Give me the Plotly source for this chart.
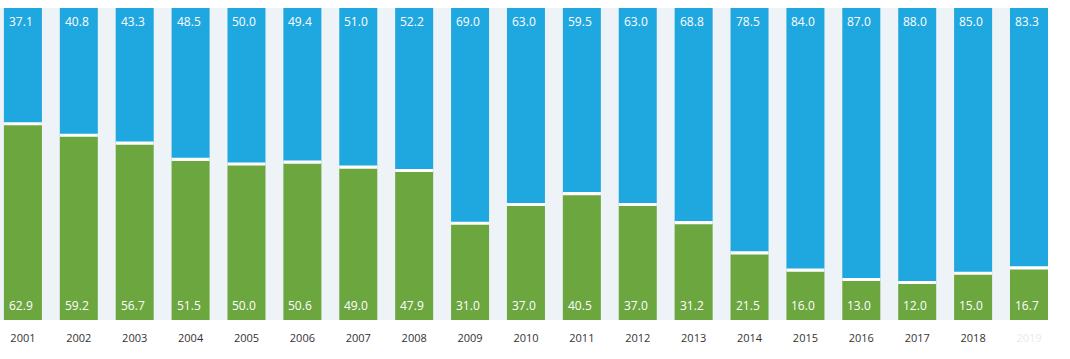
import plotly.graph_objects as go

years = ["2001","2002","2003","2004","2005","2006","2007","2008","2009","2010",
         "2011","2012","2013","2014","2015","2016","2017","2018","2019"]
blue_vals = [37.1,40.8,43.3,48.5,50.0,49.4,51.0,52.2,69.0,63.0,59.5,63.0,68.8,78.5,84.0,87.0,88.0,85.0,83.3]
green_vals = [62.9,59.2,56.7,51.5,50.0,50.6,49.0,47.9,31.0,37.0,40.5,37.0,31.2,21.5,16.0,13.0,12.0,15.0,16.7]
tick_labels = years[:-1] + ['<span style="color:#e3eaf1">2019</span>']

BLUE = "#1fa7df"
GREEN = "#6ba63f"
SEP = 1.0  # white separator thickness in % units

fig = go.Figure()
fig.add_trace(go.Bar(x=years, y=green_vals, base=[0]*len(years), marker_color=GREEN,
                     marker_line_width=0, hoverinfo="skip", showlegend=False))
fig.add_trace(go.Bar(x=years, y=blue_vals, base=green_vals, marker_color=BLUE,
                     marker_line_width=0, hoverinfo="skip", showlegend=False))
fig.add_trace(go.Bar(x=years, y=[SEP]*len(years), base=[g - SEP/2 for g in green_vals],
                     marker_color="white", marker_line_width=0, hoverinfo="skip", showlegend=False))

annotations = []
for i, (b, g) in enumerate(zip(blue_vals, green_vals)):
    annotations.append(dict(x=i, y=100, xref="x", yref="y", text=f"{b:.1f}", showarrow=False,
                            xanchor="left", yanchor="top", xshift=-16, yshift=-3,
                            font=dict(family="Open Sans", size=12, color="white")))
    annotations.append(dict(x=i, y=0, xref="x", yref="y", text=f"{g:.1f}", showarrow=False,
                            xanchor="left", yanchor="bottom", xshift=-16, yshift=4,
                            font=dict(family="Open Sans", size=12, color="white")))

fig.update_layout(
    width=1070, height=359,
    margin=dict(l=0, r=22, t=8, b=39),
    barmode="overlay", bargap=0.32,
    paper_bgcolor="white", plot_bgcolor="#eef3f7",
    annotations=annotations,
    xaxis=dict(type="category", range=[-0.41, 18.34], showgrid=False, zeroline=False,
               tickmode="array", tickvals=years, ticktext=tick_labels,
               ticks="outside", ticklen=8, tickcolor="rgba(0,0,0,0)",
               tickfont=dict(family="Open Sans", size=11, color="#333333"), fixedrange=True),
    yaxis=dict(range=[0, 100], visible=False, fixedrange=True),
)

fig.write_html("out.html", post_script="document.body.style.margin='0';",
               config={"displayModeBar": False})
